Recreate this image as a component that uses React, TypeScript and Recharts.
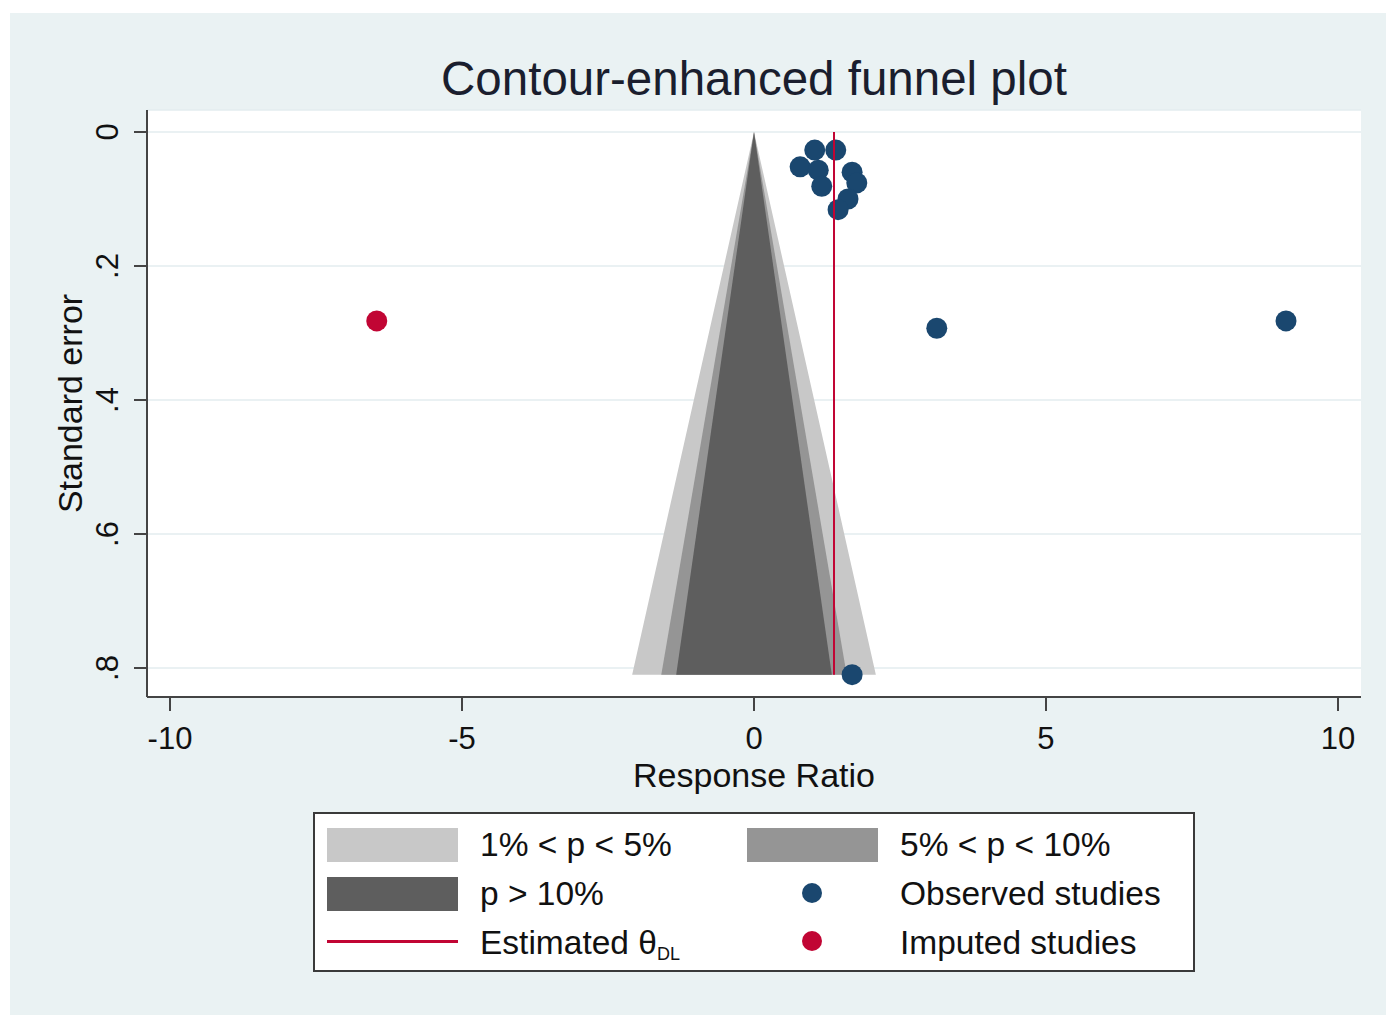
import {
  Area,
  CartesianGrid,
  ComposedChart,
  Scatter,
  XAxis,
  YAxis,
} from "recharts";

// Contour-enhanced funnel plot (Stata look).
const FONT = '"Liberation Sans", Arial, Helvetica, sans-serif';
const INK = "#111111";
const AXIS = "#444444";
const NAVY = "#1a476f";
const CRANBERRY = "#c10534";

// observed studies: response ratio vs standard error
const observedRatio = [0.79, 1.04, 1.4, 1.1, 1.16, 1.68, 1.76, 1.61, 1.44, 3.13, 9.11, 1.68];
const observedSE = [0.052, 0.027, 0.027, 0.057, 0.081, 0.06, 0.076, 0.1, 0.116, 0.293, 0.282, 0.81];

// trim-and-fill imputed study
const imputedRatio = [-6.46];
const imputedSE = [0.282];

const thetaDL = 1.37;
const seMax = 0.81;

// significance contours (two-sided z at 1%, 5%, 10%)
const zOuter = 2.576;
const zMid = 1.96;
const zInner = 1.645;

const xTicks = [-10, -5, 0, 5, 10];
const yTicks = [0, 0.2, 0.4, 0.6, 0.8];
const yTickLabels = ["0", ".2", ".4", ".6", ".8"];

const band = (x: number, z: number) =>
  Math.abs(x) <= z * seMax + 1e-9 ? [Math.abs(x) / z, seMax] : null;

const funnel = [-zOuter, -zMid, -zInner, 0, zInner, zMid, zOuter].map((z) => {
  const x = z * seMax;
  return { x, outer: band(x, zOuter), mid: band(x, zMid), inner: band(x, zInner) };
});

const observed = observedRatio.map((x, i) => ({ x, se: observedSE[i] }));
const imputed = imputedRatio.map((x, i) => ({ x, se: imputedSE[i] }));
const estimate = [
  { x: thetaDL, se: 0 },
  { x: thetaDL, se: seMax },
];

const dot = (color: string) => (props: any) =>
  <circle cx={props.cx} cy={props.cy} r={10.5} fill={color} />;

const noDot = () => <g />;

function YTick({ x, y, payload }: any) {
  const i = yTicks.indexOf(payload.value);
  return (
    <text
      x={x}
      y={y}
      transform={`rotate(-90 ${x} ${y})`}
      textAnchor="middle"
      dominantBaseline="central"
      fontSize={31}
      fontFamily={FONT}
      fill={INK}
    >
      {i >= 0 ? yTickLabels[i] : payload.value}
    </text>
  );
}

function YTitle({ viewBox }: any) {
  const x = viewBox.x + 60;
  const y = viewBox.y + viewBox.height / 2;
  return (
    <text
      x={x}
      y={y}
      transform={`rotate(-90 ${x} ${y})`}
      textAnchor="middle"
      dominantBaseline="central"
      fontSize={34}
      fontFamily={FONT}
      fill={INK}
    >
      Standard error
    </text>
  );
}

const swatch = (left: number, top: number, color: string) => (
  <div style={{ position: "absolute", left, top, width: 131, height: 34, background: color }} />
);

const label = (left: number, center: number, content: any) => (
  <div
    style={{
      position: "absolute",
      left,
      top: center - 17,
      height: 34,
      lineHeight: "34px",
      fontSize: 33.5,
      color: INK,
      whiteSpace: "nowrap",
    }}
  >
    {content}
  </div>
);

const legendDot = (cx: number, cy: number, color: string) => (
  <div
    style={{
      position: "absolute",
      left: cx - 10,
      top: cy - 10,
      width: 20,
      height: 20,
      borderRadius: "50%",
      background: color,
    }}
  />
);

function FunnelLegend() {
  return (
    <div
      style={{
        position: "absolute",
        left: 303,
        top: 799,
        width: 878,
        height: 156,
        background: "#fff",
        border: "2px solid #3a3a3a",
      }}
    >
      {swatch(12, 14, "#c8c8c8")}
      {label(165, 31, "1% < p < 5%")}
      {swatch(432, 14, "#959595")}
      {label(585, 31, "5% < p < 10%")}
      {swatch(12, 63, "#5e5e5e")}
      {label(165, 80, "p > 10%")}
      {legendDot(497, 79, NAVY)}
      {label(585, 80, "Observed studies")}
      <div style={{ position: "absolute", left: 12, top: 126, width: 131, height: 2.5, background: CRANBERRY }} />
      {label(
        165,
        129,
        <span>
          Estimated θ<sub style={{ fontSize: 18, verticalAlign: "-6px" }}>DL</sub>
        </span>
      )}
      {legendDot(497, 127, CRANBERRY)}
      {label(585, 129, "Imputed studies")}
    </div>
  );
}

export default function App() {
  return (
    <div style={{ position: "absolute", left: 0, top: 0, width: 1386, height: 1015, background: "#fff", fontFamily: FONT }}>
      <div style={{ position: "absolute", left: 10, top: 13, width: 1376, height: 1002, background: "#eaf2f3" }}>
        <div
          style={{
            position: "absolute",
            left: 137,
            width: 1214,
            top: 42,
            textAlign: "center",
            fontSize: 47.5,
            lineHeight: "47px",
            color: "#1a1e2e",
            whiteSpace: "nowrap",
          }}
        >
          Contour-enhanced funnel plot
        </div>
        <ComposedChart
          width={1376}
          height={1002}
          data={funnel}
          margin={{ top: 97, right: 25, bottom: 218, left: 0 }}
        >
          <CartesianGrid vertical={false} fill="#ffffff" stroke="#e3ecef" strokeWidth={1.5} />
          <XAxis
            type="number"
            dataKey="x"
            domain={[-10.394, 10.394]}
            ticks={xTicks}
            allowDataOverflow
            interval={0}
            height={100}
            tickSize={14}
            tickMargin={16}
            tick={{ fontSize: 31, fill: INK, fontFamily: FONT }}
            axisLine={{ stroke: AXIS, strokeWidth: 2 }}
            tickLine={{ stroke: AXIS, strokeWidth: 2 }}
            label={{
              value: "Response Ratio",
              position: "insideTop",
              offset: 66,
              fontSize: 34,
              fill: INK,
              fontFamily: FONT,
            }}
          />
          <YAxis
            type="number"
            dataKey="se"
            reversed
            domain={[-0.0328, 0.8433]}
            ticks={yTicks}
            allowDataOverflow
            interval={0}
            width={137}
            tickSize={13}
            tickMargin={26}
            tick={<YTick />}
            axisLine={{ stroke: AXIS, strokeWidth: 2 }}
            tickLine={{ stroke: AXIS, strokeWidth: 2 }}
            label={<YTitle />}
          />
          <Area
            dataKey="outer"
            type="linear"
            fill="#c8c8c8"
            fillOpacity={1}
            stroke="none"
            dot={false}
            activeDot={false}
            isAnimationActive={false}
          />
          <Area
            dataKey="mid"
            type="linear"
            fill="#959595"
            fillOpacity={1}
            stroke="none"
            dot={false}
            activeDot={false}
            isAnimationActive={false}
          />
          <Area
            dataKey="inner"
            type="linear"
            fill="#5e5e5e"
            fillOpacity={1}
            stroke="none"
            dot={false}
            activeDot={false}
            isAnimationActive={false}
          />
          <Scatter data={observed} shape={dot(NAVY)} isAnimationActive={false} />
          <Scatter data={imputed} shape={dot(CRANBERRY)} isAnimationActive={false} />
          <Scatter
            data={estimate}
            line={{ stroke: CRANBERRY, strokeWidth: 2 }}
            shape={noDot}
            isAnimationActive={false}
          />
        </ComposedChart>
        <FunnelLegend />
      </div>
    </div>
  );
}
